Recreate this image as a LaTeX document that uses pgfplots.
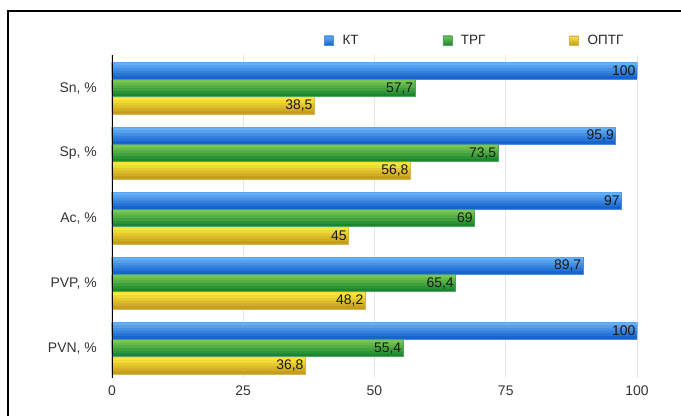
\documentclass[border=0pt]{standalone}
\usepackage{pgfplots}
\pgfplotsset{compat=1.18}
\usepackage{pgfplotstable}
\usepackage{fontspec}
\setmainfont{Liberation Sans}
\definecolor{ktT}{RGB}{100,175,248}
\definecolor{ktB}{RGB}{22,100,205}
\definecolor{trT}{RGB}{120,198,85}
\definecolor{trB}{RGB}{25,135,45}
\definecolor{opT}{RGB}{252,230,60}
\definecolor{opB}{RGB}{198,158,30}
\definecolor{gridc}{RGB}{228,228,228}
\pgfplotstableread{
v y
100 4
95.9 3
97 2
89.7 1
100 0
}\kt
\pgfplotstableread{
v y
57.7 4
73.5 3
69 2
65.4 1
55.4 0
}\trg
\pgfplotstableread{
v y
38.5 4
56.8 3
45 2
48.2 1
36.8 0
}\optg
% #1 table, #2 top colour, #3 bottom colour, #4 base shift (bp)
\newcommand\gradbars[4]{%
 \addplot[forget plot, draw=#3!75, line width=0.4bp, fill=#3, bar width=16.5bp, bar shift=#4bp] table[x=v,y=y]{#1};
 \addplot[forget plot, draw=none, fill=#2!20!#3, bar width=13.75bp, bar shift={#4bp+1.375bp}] table[x=v,y=y]{#1};
 \addplot[forget plot, draw=none, fill=#2!40!#3, bar width=11bp, bar shift={#4bp+2.75bp}] table[x=v,y=y]{#1};
 \addplot[forget plot, draw=none, fill=#2!60!#3, bar width=8.25bp, bar shift={#4bp+4.125bp}] table[x=v,y=y]{#1};
 \addplot[forget plot, draw=none, fill=#2!80!#3, bar width=5.5bp, bar shift={#4bp+5.5bp}] table[x=v,y=y]{#1};
 \addplot[forget plot, draw=none, fill=#2, bar width=2.75bp, bar shift={#4bp+6.875bp}] table[x=v,y=y]{#1};
 \addplot[forget plot, draw=none, fill=none, bar width=16.5bp, bar shift=#4bp, nodes near coords] table[x=v,y=y]{#1};
}
\begin{document}
\begin{tikzpicture}
\useasboundingbox (-112bp,-38bp) rectangle (569bp,378bp);
\draw[line width=2.5bp] (-104bp,-45bp) -- (-104bp,367bp) -- (580bp,367bp);
\begin{axis}[
 at={(0,0)}, anchor=south west,
 scale only axis, width=525bp, height=323bp,
 xbar, bar width=16.5bp,
 xmin=0, xmax=100, ymin=-0.46, ymax=4.51,
 xtick={0,25,50,75,100},
 ytick={0,1,2,3,4},
 yticklabels={{PVN, \%},{PVP, \%},{Ac, \%},{Sp, \%},{Sn, \%}},
 major tick length=0pt,
 xmajorgrids, major grid style={gridc, line width=0.8bp},
 axis line style={draw=none},
 tick label style={font=\fontsize{14}{16}\selectfont, text=black!80},
 yticklabel style={inner sep=0pt, xshift=-15bp},
 xticklabel style={inner sep=0pt, yshift=-8bp},
 /pgf/number format/assume math mode=true,
 /pgf/number format/use comma,
 /pgf/number format/1000 sep={},
 nodes near coords style={anchor=east, font=\fontsize{14}{16}\selectfont, text=black!90, inner sep=1.5bp},
 legend columns=-1,
 legend image code/.code={\draw[#1, line width=0.3bp] (0bp,-4.5bp) rectangle (9bp,4.5bp);},
 legend style={at={(0.404,1.045)}, anchor=west, draw=none, fill=none, inner sep=0pt,
   font=\fontsize{13.5}{15}\selectfont, text=black!85,
   /tikz/every odd column/.append style={column sep=7bp},
   /tikz/every even column/.append style={column sep=82bp}},
]
\gradbars{\kt}{ktT}{ktB}{17.5}
\gradbars{\trg}{trT}{trB}{0}
\gradbars{\optg}{opT}{opB}{-17.5}
\addlegendimage{draw=ktB!75, top color=ktT, bottom color=ktB}
\addlegendentry{КТ}
\addlegendimage{draw=trB!75, top color=trT, bottom color=trB}
\addlegendentry{ТРГ}
\addlegendimage{draw=opB!75, top color=opT, bottom color=opB}
\addlegendentry{ОПТГ}
\draw[black, line width=1.5bp] (rel axis cs:0,0) -- (rel axis cs:0,1);
\end{axis}
\end{tikzpicture}
\end{document}
